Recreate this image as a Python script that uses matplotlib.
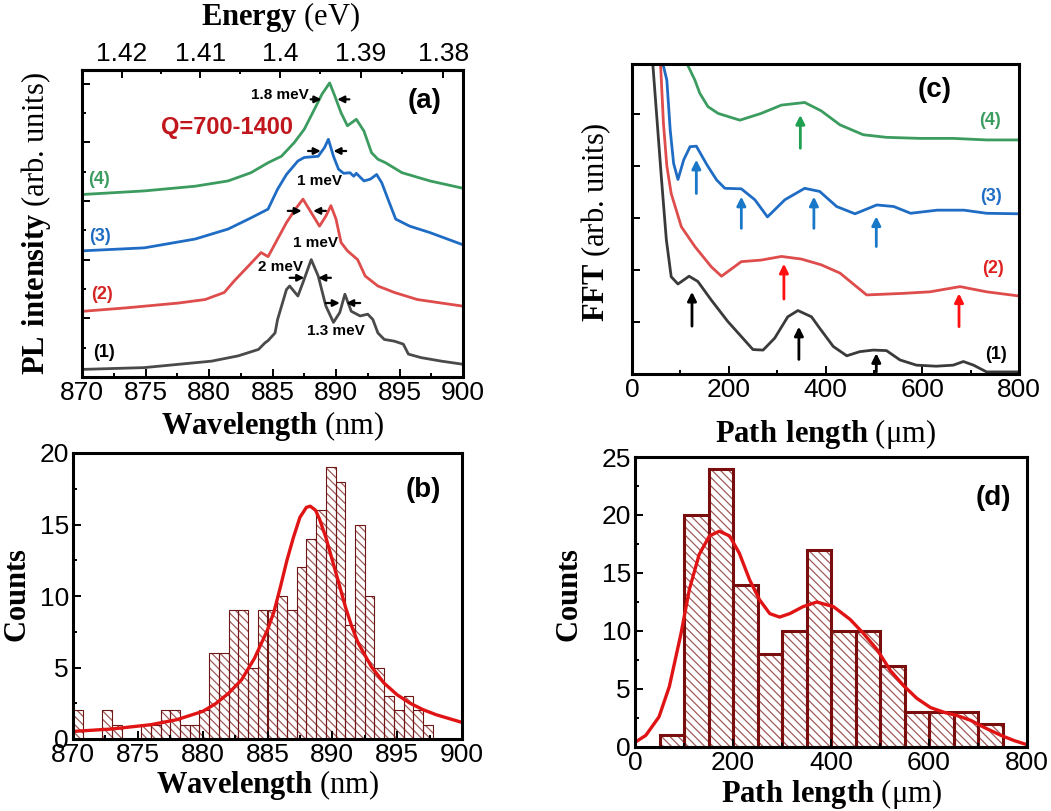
import matplotlib
matplotlib.use('Agg')
import matplotlib.pyplot as plt
from matplotlib.ticker import MultipleLocator, FixedLocator, FormatStrFormatter
import numpy as np

plt.rcParams['font.family'] = 'Liberation Sans'
plt.rcParams['mathtext.fontset'] = 'custom'
plt.rcParams['mathtext.rm'] = 'Liberation Serif'
plt.rcParams['mathtext.bf'] = 'Liberation Serif:bold'
plt.rcParams['hatch.linewidth'] = 0.9

# --- (a) PL spectra, offset for clarity ---
wl1 = [870.1, 874.9, 880.2, 882.3, 883.9, 884.4, 884.65, 885.2, 885.4, 886.1, 886.35, 887.0, 887.4,
       888.05, 888.6, 889.2, 889.8, 890.3, 890.7, 891.2, 891.9, 892.5, 892.9, 893.3, 893.8,
       894.6, 895.3, 895.7, 896.7, 898.3, 899.9]
pl1 = [0.13, 0.16, 0.27, 0.36, 0.47, 0.58, 0.62, 0.75, 0.98, 1.49, 1.55, 1.38, 1.61,
       2.00, 1.72, 1.21, 0.93, 1.10, 1.41, 1.12, 1.04, 1.07, 0.98, 0.75, 0.64,
       0.61, 0.56, 0.39, 0.33, 0.27, 0.22]
wl2 = [870.1, 873.6, 877.6, 879.7, 881.2, 882.0, 883.1, 884.1, 884.65, 885.4, 886.1, 886.8, 887.4,
       888.05, 888.7, 889.2, 889.6, 890.0, 890.4, 890.9, 891.7, 892.3, 893.3, 894.6, 896.4,
       898.3, 899.9]
pl2 = [1.12, 1.18, 1.26, 1.32, 1.44, 1.64, 1.89, 2.12, 2.05, 2.35, 2.63, 2.86, 3.03,
       2.80, 2.57, 2.74, 2.92, 2.69, 2.29, 2.15, 2.00, 1.72, 1.55, 1.44, 1.32,
       1.26, 1.21]
wl3 = [870.1, 874.9, 878.9, 881.5, 883.3, 884.65, 885.4, 886.1, 887.0, 887.5, 888.6, 889.1, 889.4,
       889.8, 890.2, 890.6, 891.1, 891.4, 891.6, 892.2, 892.7, 893.2, 893.6, 894.2, 894.7,
       895.8, 897.4, 899.9]
pl3 = [2.15, 2.20, 2.35, 2.52, 2.71, 2.86, 3.20, 3.45, 3.68, 3.74, 3.76, 3.91, 4.05,
       3.76, 3.54, 3.47, 3.48, 3.42, 3.47, 3.34, 3.37, 3.45, 3.31, 2.97, 2.69,
       2.57, 2.46, 2.26]
wl4 = [870.1, 874.9, 878.9, 881.5, 883.3, 884.65, 885.7, 886.7, 887.5, 888.3, 888.9, 889.5, 889.9,
       890.4, 890.9, 891.6, 892.2, 892.8, 893.3, 893.9, 895.2, 897.4, 899.9]
pl4 = [3.11, 3.17, 3.25, 3.34, 3.48, 3.65, 3.76, 3.99, 4.22, 4.56, 4.82, 5.01, 4.79,
       4.50, 4.28, 4.39, 4.19, 3.82, 3.71, 3.65, 3.48, 3.34, 3.22]

# --- (b) histogram of mode wavelengths with Lorentzian fit ---
wl_bin_start = 870.0
wl_bin_width = 0.75
wl_counts = [2, 0, 0, 2, 1, 0, 0, 1, 1, 2, 2, 1, 1, 2, 6, 6, 9, 9, 5, 9, 9, 10, 9, 12, 14, 16,
             19, 18, 8, 15, 10, 5, 3, 2, 3, 2, 1]
fit_b_x = [870, 873, 876, 878, 880, 881, 882, 883, 884, 885, 885.5, 886, 886.5, 887, 887.5, 888,
           888.3, 888.7, 889, 889.5, 890, 890.5, 891, 891.5, 892, 893, 894, 895, 896, 897, 898, 900]
fit_b_y = [0.53, 0.70, 1.0, 1.35, 1.93, 2.47, 3.2, 4.14, 5.65, 7.63, 8.9, 10.65, 12.5, 14.1, 15.5,
           16.2, 16.28, 16.0, 15.4, 14.1, 12.5, 10.9, 9.26, 7.86, 6.7, 5.07, 3.9, 3.09, 2.5,
           2.05, 1.7, 1.16]

# --- (c) FFT of the spectra ---
fft_x1 = [43, 60.6, 71, 81, 95, 118, 136, 164, 198, 226, 250, 271, 295, 322, 343, 371, 388, 416,
          444, 471, 499, 526, 554, 588, 629, 664, 685, 706, 733, 761, 800]
fft_y1 = [5.96, 3.79, 2.58, 1.87, 1.73, 1.88, 1.78, 1.42, 1.01, 0.72, 0.47, 0.46, 0.69, 1.10, 1.22,
          1.10, 0.88, 0.53, 0.35, 0.43, 0.46, 0.45, 0.27, 0.17, 0.15, 0.17, 0.24, 0.17, 0.04,
          0.04, 0.04]
fft_x2 = [59, 65, 72, 81, 102, 130, 164, 185, 226, 267, 309, 350, 391, 430, 485, 560, 616, 678,
          733, 800]
fft_y2 = [5.96, 4.82, 4.0, 3.47, 2.83, 2.45, 2.06, 1.88, 2.16, 2.19, 2.26, 2.21, 2.10, 1.94, 1.52,
          1.55, 1.58, 1.68, 1.58, 1.50]
fft_x3 = [64, 72, 79, 86, 95, 107, 120, 133, 155, 175, 192, 226, 254, 280, 316, 357, 388, 423,
          461, 506, 541, 576, 631, 686, 733, 800]
fft_y3 = [5.96, 5.65, 4.69, 4.05, 3.74, 4.12, 4.37, 4.38, 4.02, 3.73, 3.57, 3.56, 3.35, 3.02, 3.35,
          3.57, 3.51, 3.22, 3.08, 3.25, 3.22, 3.09, 3.15, 3.15, 3.09, 3.08]
fft_x4 = [114, 130, 140, 157, 178, 223, 267, 309, 357, 391, 430, 478, 526, 595, 664, 733, 800]
fft_y4 = [5.96, 5.65, 5.40, 5.14, 5.01, 4.88, 5.01, 5.17, 5.22, 5.06, 4.79, 4.60, 4.55, 4.53,
          4.53, 4.50, 4.50]

# --- (d) histogram of path lengths with smoothed distribution ---
path_bin_start = 50
path_bin_width = 50
path_counts = [1, 20, 24, 14, 8, 10, 17, 10, 10, 7, 3, 3, 3, 2]
fit_d_x = [0, 22, 49, 70, 94, 111, 131, 152, 172, 193, 213, 234, 254, 275, 295, 316, 343, 371,
           405, 439, 466, 494, 521, 548, 575, 603, 630, 658, 685, 712, 747, 774, 800]
fit_d_y = [0.4, 1.0, 2.6, 5.2, 9.8, 13.6, 16.6, 18.2, 18.6, 18.2, 16.7, 14.4, 12.7, 11.5, 11.2,
           11.5, 12.1, 12.5, 12.1, 11.0, 9.8, 8.4, 6.6, 5.3, 4.2, 3.4, 3.0, 2.7, 2.3, 1.7, 1.0,
           0.55, 0.2]

GREEN, BLUE, RED, GRAY = '#3c9c60', '#1f6cc4', '#de4c4c', '#4a4a4a'
FIT_RED = '#e01414'
BAR_EDGE = '#6e1616'
HATCH_COL = '#a05a5a'

W, H = 1051, 811
fig = plt.figure(figsize=(W / 100, H / 100), dpi=100)


def add_axes_px(left, top, right, bottom):
    return fig.add_axes([left / W, 1 - bottom / H, (right - left) / W, (bottom - top) / H])


def style_axes(ax):
    for sp in ax.spines.values():
        sp.set_linewidth(2.2)
    ax.tick_params(which='both', direction='in', width=1.4, labelsize=19, pad=3,
                   top=False, right=False)
    ax.tick_params(which='major', length=6)
    ax.tick_params(which='minor', length=3)


def serif_label(bold, rest):
    return r'$\mathbf{' + bold.replace(' ', r'\ ') + '}$ ' + rest


LBL = dict(fontsize=22, fontfamily='Liberation Serif')

# ------------------------- (a) -------------------------
ax_a = add_axes_px(82, 70, 463, 377)
style_axes(ax_a)
ax_a.plot(wl1, pl1, color=GRAY, lw=2)
ax_a.plot(wl2, pl2, color=RED, lw=2)
ax_a.plot(wl3, pl3, color=BLUE, lw=2)
ax_a.plot(wl4, pl4, color=GREEN, lw=2)
ax_a.set_xlim(870, 900)
ax_a.set_ylim(0, 5.23)
ax_a.xaxis.set_major_locator(MultipleLocator(5))
ax_a.xaxis.set_minor_locator(MultipleLocator(2.5))
ax_a.yaxis.set_major_locator(MultipleLocator(1))
ax_a.yaxis.set_minor_locator(MultipleLocator(0.5))
ax_a.tick_params(labelleft=False)
ax_a.set_xlabel(serif_label('Wavelength', '(nm)'), **LBL)
ax_a.xaxis.set_label_coords(0.5, -0.105)
ax_a.set_ylabel(serif_label('PL intensity', '(arb. units)'), **LBL)
ax_a.yaxis.set_label_coords(-0.076, 0.5)

# photon energy scale on the top edge
hc = 1239.84
sec = ax_a.secondary_xaxis('top', functions=(lambda x: hc / np.asarray(x, float),
                                               lambda e: hc / np.asarray(e, float)))
sec.xaxis.set_major_locator(FixedLocator([1.38, 1.39, 1.40, 1.41, 1.42]))
sec.xaxis.set_minor_locator(FixedLocator([1.385, 1.395, 1.405, 1.415]))
sec.xaxis.set_major_formatter(FormatStrFormatter('%g'))
sec.tick_params(which='both', direction='in', width=1.4, labelsize=19, pad=3)
sec.tick_params(which='major', length=6)
sec.tick_params(which='minor', length=3)
sec.spines['top'].set_linewidth(2.2)
ax_a.text(0.522, 1.172, serif_label('Energy', '(eV)'), transform=ax_a.transAxes,
          ha='center', va='center', **LBL)

ax_a.text(897.0, 4.70, '(a)', fontsize=20, fontweight='bold', ha='center', va='center')
ax_a.text(881.4, 4.25, 'Q=700-1400', fontsize=17, fontweight='bold', color='#c0161c',
          ha='center', va='center')
for txt, x, y, c in [('(4)', 871.3, 3.37, GREEN), ('(3)', 871.4, 2.40, BLUE),
                     ('(2)', 871.6, 1.40, '#d42424'), ('(1)', 871.7, 0.41, 'black')]:
    ax_a.text(x, y, txt, fontsize=13, fontweight='bold', color=c, ha='center', va='center')

# linewidth markers: (tail x, tip x, y)
fwhm_arrows = [(888.0, 888.85, 4.73), (891.05, 890.1, 4.73),
               (887.8, 888.8, 3.85), (890.8, 889.8, 3.85),
               (886.2, 887.3, 2.83), (889.2, 888.2, 2.83),
               (886.35, 887.5, 1.69), (889.6, 888.6, 1.69),
               (889.2, 890.3, 1.26), (891.9, 890.8, 1.26)]
for x0, x1, y in fwhm_arrows:
    ax_a.annotate('', xy=(x1, y), xytext=(x0, y),
                  arrowprops=dict(arrowstyle='-|>', color='black', lw=1.6,
                                  mutation_scale=10, shrinkA=0, shrinkB=0))
for txt, x, y in [('1.8 meV', 885.6, 4.80), ('1 meV', 888.7, 3.34), ('1 meV', 888.4, 2.29),
                  ('2 meV', 885.6, 1.88), ('1.3 meV', 890.0, 0.78)]:
    ax_a.text(x, y, txt, fontsize=11, fontweight='bold', ha='center', va='center')

# ------------------------- (b) -------------------------
ax_b = add_axes_px(73, 453, 462, 739)
style_axes(ax_b)
edges_b = wl_bin_start + wl_bin_width * np.arange(len(wl_counts))
ax_b.bar(edges_b, wl_counts, width=wl_bin_width, align='edge', color='white',
         edgecolor=HATCH_COL, hatch='\\\\\\\\', linewidth=0)
ax_b.bar(edges_b, wl_counts, width=wl_bin_width, align='edge', fill=False,
         edgecolor=BAR_EDGE, linewidth=0.8)
ax_b.plot(fit_b_x, fit_b_y, color=FIT_RED, lw=2.4)
ax_b.set_xlim(870, 900)
ax_b.set_ylim(0, 20)
ax_b.xaxis.set_major_locator(MultipleLocator(5))
ax_b.xaxis.set_minor_locator(MultipleLocator(2.5))
ax_b.yaxis.set_major_locator(MultipleLocator(5))
ax_b.yaxis.set_minor_locator(MultipleLocator(2.5))
ax_b.set_xlabel(serif_label('Wavelength', '(nm)'), **LBL)
ax_b.xaxis.set_label_coords(0.5, -0.10)
ax_b.set_ylabel(r'$\mathbf{Counts}$', **LBL)
ax_b.yaxis.set_label_coords(-0.103, 0.5)
ax_b.text(897.0, 17.4, '(b)', fontsize=20, fontweight='bold', ha='center', va='center')

# ------------------------- (c) -------------------------
ax_c = add_axes_px(632, 64, 1019, 374)
style_axes(ax_c)
ax_c.plot(fft_x1, fft_y1, color='#3a3a3a', lw=2)
ax_c.plot(fft_x2, fft_y2, color=RED, lw=2)
ax_c.plot(fft_x3, fft_y3, color=BLUE, lw=2)
ax_c.plot(fft_x4, fft_y4, color=GREEN, lw=2)
ax_c.set_xlim(0, 800)
ax_c.set_ylim(0, 5.96)
ax_c.xaxis.set_major_locator(MultipleLocator(200))
ax_c.xaxis.set_minor_locator(MultipleLocator(100))
ax_c.yaxis.set_major_locator(MultipleLocator(1))
ax_c.tick_params(labelleft=False)
ax_c.set_xlabel(serif_label('Path length', r'($\mathrm{\mu}$m)'), **LBL)
ax_c.xaxis.set_label_coords(0.5, -0.14)
ax_c.set_ylabel(serif_label('FFT', '(arb. units)'), **LBL)
ax_c.yaxis.set_label_coords(-0.049, 0.49)

# peak markers: (x, tail y, tip y, colour)
peak_arrows = [(348, 4.34, 4.98, '#1fa050'),
               (133, 3.47, 4.12, '#1a78c8'), (226, 2.80, 3.41, '#1a78c8'),
               (376, 2.80, 3.41, '#1a78c8'), (505, 2.45, 3.03, '#1a78c8'),
               (314, 1.44, 2.12, '#ff1010'), (676, 0.91, 1.55, '#ff1010'),
               (124, 0.92, 1.58, 'black'), (345, 0.28, 0.91, 'black'), (505, 0.04, 0.40, 'black')]
for x, y0, y1, c in peak_arrows:
    ax_c.annotate('', xy=(x, y1), xytext=(x, y0),
                  arrowprops=dict(arrowstyle='-|>', color=c, lw=2,
                                  mutation_scale=13, shrinkA=0, shrinkB=0))
for txt, x, y, c in [('(4)', 740, 4.88, GREEN), ('(3)', 743, 3.41, BLUE),
                     ('(2)', 746, 2.03, '#e02020'), ('(1)', 753, 0.37, 'black')]:
    ax_c.text(x, y, txt, fontsize=13, fontweight='bold', color=c, ha='center', va='center')
ax_c.text(626, 5.46, '(c)', fontsize=20, fontweight='bold', ha='center', va='center')

# ------------------------- (d) -------------------------
ax_d = add_axes_px(635, 457, 1027, 747)
style_axes(ax_d)
edges_d = path_bin_start + path_bin_width * np.arange(len(path_counts))
ax_d.bar(edges_d, path_counts, width=path_bin_width, align='edge', color='white',
         edgecolor=HATCH_COL, hatch='\\\\\\\\', linewidth=0)
ax_d.bar(edges_d, path_counts, width=path_bin_width, align='edge', fill=False,
         edgecolor='#7a0e0e', linewidth=2.2)
ax_d.plot(fit_d_x, fit_d_y, color=FIT_RED, lw=2.4)
ax_d.set_xlim(0, 800)
ax_d.set_ylim(0, 25)
ax_d.xaxis.set_major_locator(MultipleLocator(200))
ax_d.xaxis.set_minor_locator(MultipleLocator(100))
ax_d.yaxis.set_major_locator(MultipleLocator(5))
ax_d.yaxis.set_minor_locator(MultipleLocator(2.5))
ax_d.set_xlabel(serif_label('Path length', r'($\mathrm{\mu}$m)'), **LBL)
ax_d.xaxis.set_label_coords(0.5, -0.105)
ax_d.set_ylabel(r'$\mathbf{Counts}$', **LBL)
ax_d.yaxis.set_label_coords(-0.128, 0.52)
ax_d.text(732, 21.5, '(d)', fontsize=20, fontweight='bold', ha='center', va='center')

fig.savefig('out.png', dpi=100, facecolor='white')
